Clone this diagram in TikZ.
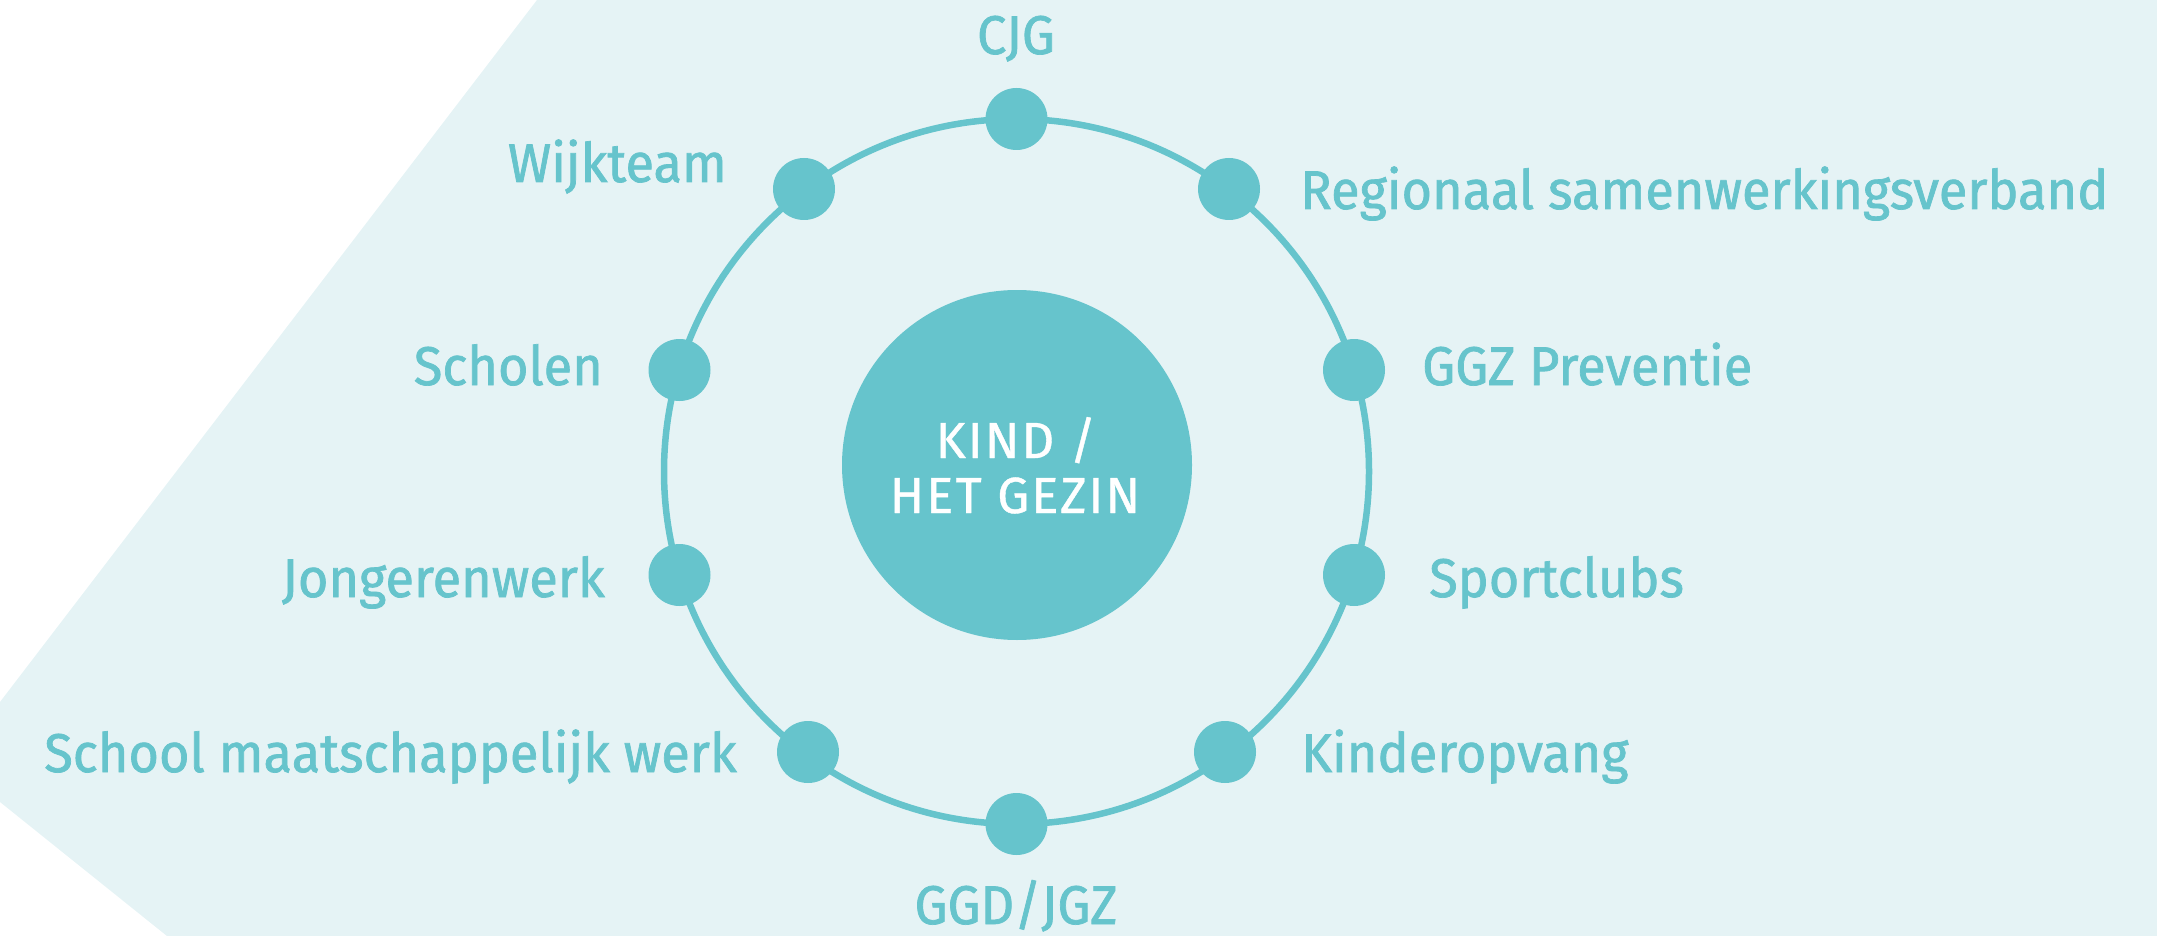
\documentclass[tikz,border=0pt]{standalone}
\usepackage{fontspec}
\setmainfont{Fira Sans}
\newfontfamily\lblfont[FakeStretch=0.96,FakeBold=1.3]{Fira Sans}
\newfontfamily\hubfont[LetterSpace=4,FakeBold=0.8]{Fira Sans}
\definecolor{tealc}{HTML}{66C4CC}
\definecolor{bgc}{HTML}{E5F3F5}
\begin{document}
\begin{tikzpicture}[x=1pt,y=-1pt,
  lbl/.style={inner sep=0pt, text=tealc, font=\lblfont\fontsize{54.5}{60}\selectfont},
  dot/.style={circle, fill=tealc, minimum size=62pt, inner sep=0pt},
  ring/.style={draw=tealc, line width=6.5pt},
  hub/.style={circle, fill=tealc, minimum size=350pt, inner sep=0pt},
  hubtxt/.style={inner sep=0pt, text=white, font=\hubfont\fontsize{50.8}{55}\selectfont}]
\useasboundingbox (0,0) rectangle (2157,936);
\fill[bgc] (537,0) -- (2157,0) -- (2157,936) -- (167,936) -- (0,802) -- (0,702) -- cycle;
\coordinate (c) at (1016.5,471.5);
\draw[ring] (c) circle[radius=352.5pt];
% dots
\node[dot] (d1) at (1016.5,119) {};
\node[dot] (d2) at (1229,189) {};
\node[dot] (d3) at (1354,370) {};
\node[dot] (d4) at (1354,575) {};
\node[dot] (d5) at (1225,752) {};
\node[dot] (d6) at (1016.5,824) {};
\node[dot] (d7) at (808,752) {};
\node[dot] (d8) at (679.5,575) {};
\node[dot] (d9) at (679.5,370) {};
\node[dot] (d10) at (804,189) {};
% hub
\node[hub] (hub) at (1017,465) {};
\node[hubtxt, anchor=base] (hub1) at (1016,458) {KIND /};
\node[hubtxt, anchor=base] (hub2) at (1015,513) {HET GEZIN};
% labels
\node[lbl, anchor=base] (l1) at (1016,54) {CJG};
\node[lbl, anchor=base west] (l2) at (1300,209) {Regionaal samenwerkingsverband};
\node[lbl, anchor=base west] (l3) at (1422,385) {GGZ Preventie};
\node[lbl, anchor=base west] (l4) at (1429,597) {Sportclubs};
\node[lbl, anchor=base west] (l5) at (1301,772) {Kinderopvang};
\node[lbl, anchor=base] (l6) at (1016,924) {GGD/JGZ};
\node[lbl, anchor=base east] (l7) at (737,772) {School maatschappelijk werk};
\node[lbl, anchor=base east] (l8) at (605,597) {Jongerenwerk};
\node[lbl, anchor=base east] (l9) at (603,385) {Scholen};
\node[lbl, anchor=base east] (l10) at (727,182) {Wijkteam};
\end{tikzpicture}
\end{document}
